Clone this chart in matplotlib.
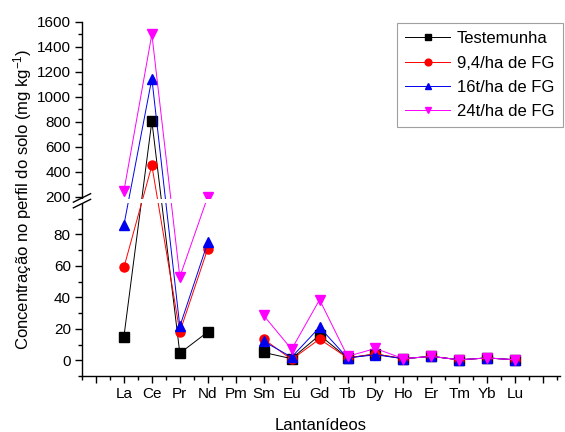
import numpy as np
import matplotlib
matplotlib.use("Agg")
import matplotlib.pyplot as plt
from matplotlib.patches import Rectangle
from matplotlib.lines import Line2D

plt.rcParams['font.family'] = ['Liberation Sans', 'DejaVu Sans']
plt.rcParams['mathtext.default'] = 'regular'

nan = np.nan
elementos = ['La', 'Ce', 'Pr', 'Nd', 'Pm', 'Sm', 'Eu', 'Gd',
             'Tb', 'Dy', 'Ho', 'Er', 'Tm', 'Yb', 'Lu']
testemunha = [15, 805, 4.5, 18, nan, 5, 1, 16, 1.5, 4, 1, 2.5, 0.3, 1.5, 0.3]
fg_9_4 = [59, 450, 18, 71, nan, 13.5, 0.5, 13.5, 1.5, 4, 1, 2.5, 0.3, 1.5, 0.3]
fg_16 = [86, 1145, 21.5, 75, nan, 12, 2, 21, 1.5, 3.5, 1, 2.5, 0.3, 1.5, 0.3]
fg_24 = [245, 1500, 53, 200, nan, 28.5, 7, 38.5, 2.5, 7.5, 1, 2.5, 0.3, 1.5, 0.3]
legendas = ['Testemunha', '9,4/ha de FG', '16t/ha de FG', '24t/ha de FG']

# broken y axis: 0-100 linear, gap, then 185-1600 compressed
L, U, G = 100.0, 185.0, 2.8
K = 0.125 / 1.573


def fwd(y):
    y = np.asarray(y, dtype=float)
    return np.where(y <= L, y,
                    np.where(y < U, L + (y - L) * G / (U - L), L + G + (y - U) * K))


def inv(z):
    z = np.asarray(z, dtype=float)
    return np.where(z <= L, z,
                    np.where(z < L + G, L + (z - L) * (U - L) / G, U + (z - L - G) / K))


fig = plt.figure(figsize=(5.65, 4.32), dpi=100)
ax = fig.add_axes([0.1451, 0.1296, 0.8460, 0.8202])
ax.set_yscale('function', functions=(fwd, inv))

x = np.arange(len(elementos))
series = [testemunha, fg_9_4, fg_16, fg_24]
cores = ['black', '#ff0000', '#0000ee', '#ff00ff']
marcadores = ['s', 'o', '^', 'v']
for vals, cor, mk, lab in zip(series, cores, marcadores, legendas):
    ax.plot(x, vals, color=cor, lw=0.7, marker=mk, ms=6.5, mec=cor, mfc=cor,
            label=lab, zorder=2)

ax.set_xlim(-1.47, 15.6)
ax.set_ylim(-10, 1600)

ax.set_xticks(np.arange(-1, 16))
ax.set_xticklabels([''] + elementos + [''])
ax.set_xticks(np.arange(-1.5, 15.6, 0.5), minor=True)

ax.set_yticks([0, 20, 40, 60, 80, 200, 400, 600, 800, 1000, 1200, 1400, 1600])
ax.set_yticklabels(['0', '20', '40', '60', '80', '200', '400', '600', '800',
                    '1000', '1200', '1400', '1600'])
ax.set_yticks([-10, 10, 30, 50, 70, 90, 300, 500, 700, 900, 1100, 1300, 1500],
              minor=True)
ax.yaxis.set_minor_formatter(plt.NullFormatter())

ax.tick_params(which='major', length=5, width=1, labelsize=11, pad=3)
ax.tick_params(which='minor', length=3, width=1)
for s in ['top', 'right']:
    ax.spines[s].set_visible(False)
for s in ['left', 'bottom']:
    ax.spines[s].set_linewidth(1)

ax.set_xlabel('Lantanídeos', fontsize=12, labelpad=12)
ax.set_ylabel('Concentração no perfil do solo (mg kg$^{-1}$)', fontsize=12, labelpad=2)

# white band hiding the break region, then the // marks on the spine
tr = matplotlib.transforms.blended_transform_factory(ax.transAxes, ax.transData)
ax.add_patch(Rectangle((-0.02, 100), 1.04, 85, transform=tr, facecolor='white',
                       edgecolor='none', zorder=5, clip_on=False))
z_mid = (fwd(100) + fwd(185)) / 2
y0 = (z_mid - fwd(-10)) / (fwd(1600) - fwd(-10))
for dy in (-0.008, 0.008):
    ax.add_line(Line2D([-0.018, 0.018], [y0 + dy - 0.012, y0 + dy + 0.012],
                       transform=ax.transAxes, color='black', lw=1,
                       clip_on=False, zorder=6))

leg = ax.legend(loc='upper left', bbox_to_anchor=(397 / 565, 1 - 23 / 432),
                bbox_transform=fig.transFigure, fontsize=12, frameon=True,
                fancybox=False, edgecolor='#888888', handlelength=2.7,
                handletextpad=0.4, borderpad=0.5, labelspacing=0.55,
                borderaxespad=0, markerscale=0.75)
leg.get_frame().set_linewidth(0.8)

fig.savefig('out.png', dpi=100)
